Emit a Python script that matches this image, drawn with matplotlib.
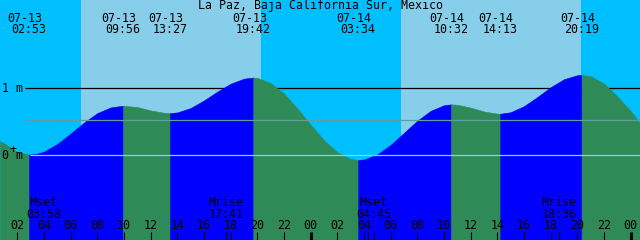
import numpy as np
import matplotlib
matplotlib.use("Agg")
import matplotlib.pyplot as plt
from matplotlib.transforms import blended_transform_factory

# ---------------- data (hours since 07-13 00:00, heights in metres) ----------------
hours = [0.7, 1.0, 2.0, 2.883, 3.5, 4, 5, 6, 7, 8, 9, 9.933, 11, 12, 13, 13.45,
         14, 15, 16, 17, 18, 19, 19.7, 20, 21, 22, 23, 24, 25, 26, 27, 27.567,
         28, 29, 30, 31, 32, 33, 34, 34.533, 35, 36, 37, 38, 38.217,
         39, 40, 41, 42, 43, 44, 44.317, 45, 46, 47, 48, 48.7]
heights = [0.21, 0.18, 0.05, 0.01, 0.025, 0.055, 0.17, 0.325, 0.49, 0.63, 0.715, 0.74,
           0.72, 0.67, 0.635, 0.63,
           0.64, 0.706, 0.819, 0.951, 1.069, 1.144, 1.16, 1.156, 1.079, 0.919, 0.699,
           0.455, 0.226, 0.046, -0.054, -0.07,
           -0.062, 0.014, 0.156, 0.336, 0.517, 0.664, 0.748, 0.76, 0.755, 0.712, 0.654,
           0.621, 0.62,
           0.643, 0.734, 0.870, 1.017, 1.136, 1.196, 1.20, 1.18, 1.07, 0.88, 0.66, 0.48]

tide_hours = [2.883, 9.933, 13.45, 19.7, 27.567, 34.533, 38.217, 44.317]
tide_dates = ["07-13", "07-13", "07-13", "07-13", "07-14", "07-14", "07-14", "07-14"]
tide_times = ["02:53", "09:56", "13:27", "19:42", "03:34", "10:32", "14:13", "20:19"]

moon_hours = [3.967, 17.683, 28.75, 42.6]
moon_names = ["Mset", "Mrise", "Mset", "Mrise"]
moon_times = ["03:58", "17:41", "04:45", "18:36"]
extra_tick_hours = [28.275]

sun_change_hours = [6.775, 20.275, 30.775, 44.275]   # rise, set, rise, set

hour_tick_hours = list(range(2, 49, 2))
hour_tick_labels = ["%02d" % (h % 24) for h in hour_tick_hours]

msl_level = 0.52
title = "La Paz, Baja California Sur, Mexico"

# ---------------- styling ----------------
W, H = 640, 240
PX_PER_H = 640 / 48.0
DATUM_PX = 155.3
PX_PER_M = 67.0
NIGHT = "#00BFFF"
DAY = "#87CEEB"
FLOOD = "#0000FF"
EBB = "#2E8B57"
FONT = "DejaVu Sans Mono"
FS = 8.4

t = np.array(hours)
h = np.array(heights)
x0, x1 = t[0], t[-1]

fig = plt.figure(figsize=(W / 100, H / 100), dpi=100)
ax = fig.add_axes([0, 0, 1, 1])
ax.set_xlim(x0, x1)
ymin = -(H - DATUM_PX) / PX_PER_M
ymax = DATUM_PX / PX_PER_M
ax.set_ylim(ymin, ymax)
ax.axis("off")

# sky
edges = [x0] + sun_change_hours + [x1]
for i in range(len(edges) - 1):
    ax.axvspan(edges[i], edges[i + 1], color=NIGHT if i % 2 == 0 else DAY, lw=0, zorder=0)

# 1 m line (behind water)
lab_x = x0 + 25 / PX_PER_H
ax.hlines(1.0, lab_x, x1, color="black", lw=0.9, zorder=1)

# water fill, coloured by rising/falling
bounds = [x0] + tide_hours + [x1]
for i in range(len(bounds) - 1):
    m = (t >= bounds[i] - 1e-9) & (t <= bounds[i + 1] + 1e-9)
    rising = h[m][-1] > h[m][0]
    c = FLOOD if rising else EBB
    ax.fill_between(t[m], h[m], ymin, color=c, lw=0.4, edgecolor=c, zorder=2)

# msl & datum lines (over water)
ax.hlines(msl_level, lab_x, x1, color="#5F9EA0", lw=0.9, zorder=3)
ax.hlines(0.0, lab_x + 5 / PX_PER_H, x1, color="#87CEFA", lw=0.9, zorder=3)

tr = blended_transform_factory(ax.transData, fig.transFigure)
def fy(px):
    return 1 - px / H

def txt(x, ypx, s, tf=tr, ha="center"):
    fig.text(x, fy(ypx), s, transform=tf, ha=ha, va="baseline",
             family=FONT, fontsize=FS, color="black", zorder=5)

# title
fig.text(0.5, fy(8.5), title, ha="center", va="baseline", family=FONT, fontsize=FS)

# tide events
for th, d, s in zip(tide_hours, tide_dates, tide_times):
    txt(th - 4 / PX_PER_H, 21.7, d)
    txt(th, 33.3, s)

# y labels
fig.text(2 / W, fy(92), "1 m", ha="left", va="baseline", family=FONT, fontsize=FS)
fig.text(2 / W, fy(159), "0 m", ha="left", va="baseline", family=FONT, fontsize=FS)
fig.text(13 / W, fy(149.5), "+", ha="center", va="center", family=FONT, fontsize=FS)

# moon events
for mh, n, s in zip(moon_hours, moon_names, moon_times):
    txt(mh, 206, n)
    txt(mh, 218.3, s)

# hour labels & ticks
for hh, lab in zip(hour_tick_hours, hour_tick_labels):
    txt(hh, 229.3, lab)
    thick = (hh % 24 == 0)
    ax.vlines(hh, fy(240.5), fy(232), transform=tr, color="black",
              lw=2.2 if thick else 0.8, zorder=4)
for mh in moon_hours + extra_tick_hours:
    ax.vlines(mh, fy(240.5), fy(232), transform=tr, color="black", lw=0.8, zorder=4)

fig.savefig("out.png", dpi=100)
